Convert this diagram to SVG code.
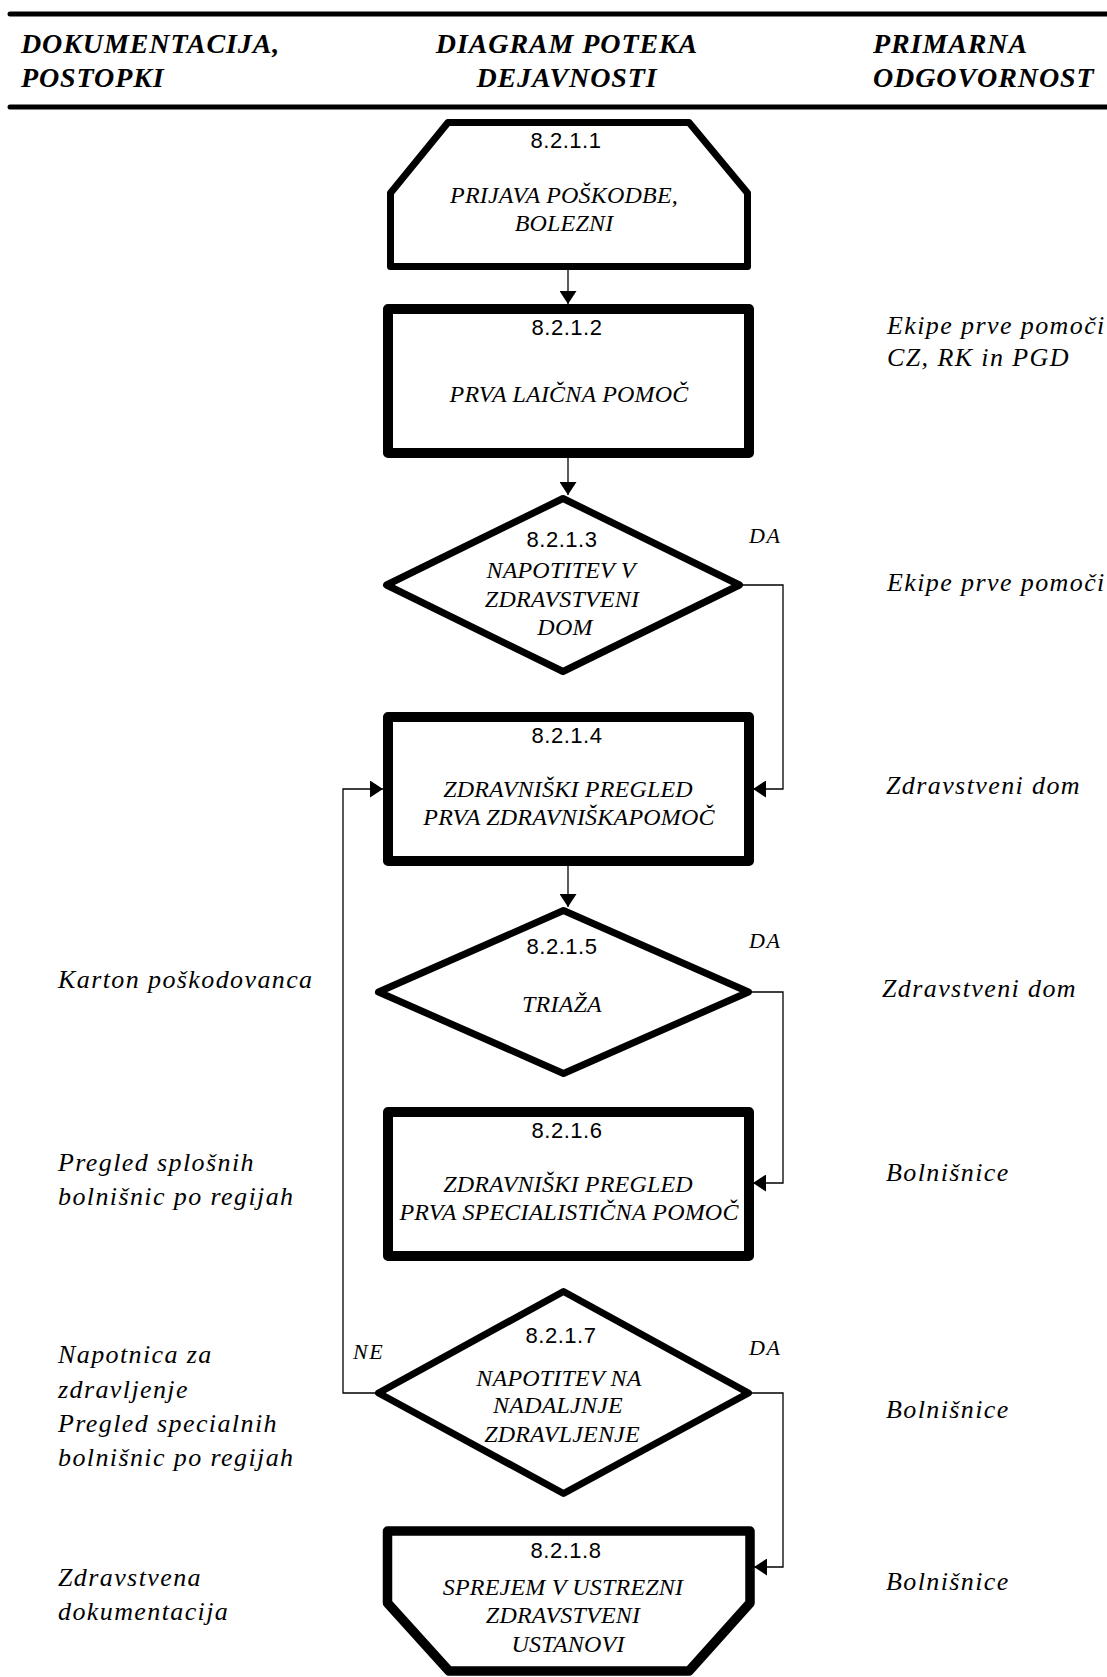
<svg xmlns="http://www.w3.org/2000/svg" width="1107" height="1677" viewBox="0 0 1107 1677">
<style>
.hdr{font-family:"Liberation Serif","Times New Roman",serif;font-weight:bold;font-style:italic;font-size:28px;letter-spacing:0.9px;fill:#000}
.col{font-family:"Liberation Serif","Times New Roman",serif;font-style:italic;font-size:26px;letter-spacing:1.4px;fill:#000}
.nt{font-family:"Liberation Serif","Times New Roman",serif;font-style:italic;font-size:24px;letter-spacing:0.2px;fill:#000;text-anchor:middle}
.lbl{font-family:"Liberation Serif","Times New Roman",serif;font-style:italic;font-size:22px;letter-spacing:1.5px;fill:#000}
.num{font-family:"Liberation Sans",Arial,sans-serif;font-size:22px;letter-spacing:0.5px;fill:#000;text-anchor:middle}
.shape{fill:#fff;stroke:#000;stroke-linejoin:round}
.conn{fill:none;stroke:#000;stroke-width:1.3}
.rule{stroke:#000;stroke-width:5;stroke-linecap:round}
</style>
<defs>
<marker id="arr" markerUnits="userSpaceOnUse" viewBox="0 0 13 17" refX="13" refY="8.5" markerWidth="13" markerHeight="17" orient="auto">
<path d="M0,0 L13,8.5 L0,17 Z" fill="#000"/>
</marker>
</defs>
<rect width="1107" height="1677" fill="#fff"/>

<g id="header">
<line class="rule" x1="10" y1="14" x2="1110" y2="14"/>
<line class="rule" x1="10" y1="107" x2="1110" y2="107"/>
<text class="hdr" x="21" y="53">DOKUMENTACIJA,</text>
<text class="hdr" x="21" y="87">POSTOPKI</text>
<text class="hdr" x="567" y="53" text-anchor="middle">DIAGRAM POTEKA</text>
<text class="hdr" x="567" y="87" text-anchor="middle">DEJAVNOSTI</text>
<text class="hdr" x="873" y="53">PRIMARNA</text>
<text class="hdr" x="873" y="87">ODGOVORNOST</text>
</g>

<g id="connectors">
<line class="conn" x1="568" y1="270" x2="568" y2="304" marker-end="url(#arr)"/>
<line class="conn" x1="568" y1="458" x2="568" y2="495" marker-end="url(#arr)"/>
<line class="conn" x1="568" y1="866" x2="568" y2="907" marker-end="url(#arr)"/>
<polyline class="conn" points="743,585 783,585 783,789 753,789" marker-end="url(#arr)"/>
<polyline class="conn" points="752,992 783,992 783,1183 753,1183" marker-end="url(#arr)"/>
<polyline class="conn" points="752,1393 783,1393 783,1567 754,1567" marker-end="url(#arr)"/>
<polyline class="conn" points="375,1393 343,1393 343,789 383,789" marker-end="url(#arr)"/>
<text class="lbl" x="749" y="543">DA</text>
<text class="lbl" x="749" y="948">DA</text>
<text class="lbl" x="749" y="1355">DA</text>
<text class="lbl" x="353" y="1359">NE</text>
</g>

<g id="n1">
<path class="shape" stroke-width="7" d="M448,122.5 L689,122.5 L747.5,193 L747.5,266.5 L390.5,266.5 L390.5,193 Z"/>
<text class="num" x="566" y="148">8.2.1.1</text>
<text class="nt" x="564" y="203">PRIJAVA POŠKODBE,</text>
<text class="nt" x="564" y="231">BOLEZNI</text>
</g>

<g id="n2">
<rect class="shape" stroke-width="10" x="388" y="309" width="361" height="144"/>
<text class="num" x="567" y="335">8.2.1.2</text>
<text class="nt" x="569" y="402">PRVA LAIČNA POMOČ</text>
</g>

<g id="n3">
<path class="shape" stroke-width="7" d="M563,498.5 L739.5,585 L563,671.5 L386.5,585 Z"/>
<text class="num" x="562" y="547">8.2.1.3</text>
<text class="nt" x="561" y="578">NAPOTITEV V</text>
<text class="nt" x="562" y="607">ZDRAVSTVENI</text>
<text class="nt" x="565" y="635">DOM</text>
</g>

<g id="n4">
<rect class="shape" stroke-width="10" x="388" y="717" width="361" height="144"/>
<text class="num" x="567" y="743">8.2.1.4</text>
<text class="nt" x="568" y="797">ZDRAVNIŠKI PREGLED</text>
<text class="nt" x="569" y="825">PRVA ZDRAVNIŠKAPOMOČ</text>
</g>

<g id="n5">
<path class="shape" stroke-width="7" d="M563.5,910.5 L748.5,992 L563.5,1073.5 L378.5,992 Z"/>
<text class="num" x="562" y="954">8.2.1.5</text>
<text class="nt" x="562" y="1012">TRIAŽA</text>
</g>

<g id="n6">
<rect class="shape" stroke-width="10" x="388" y="1112" width="361" height="144"/>
<text class="num" x="567" y="1138">8.2.1.6</text>
<text class="nt" x="568" y="1192">ZDRAVNIŠKI PREGLED</text>
<text class="nt" x="569" y="1220">PRVA SPECIALISTIČNA POMOČ</text>
</g>

<g id="n7">
<path class="shape" stroke-width="7" d="M563.5,1291.5 L748.5,1393 L563.5,1493.5 L378.5,1393 Z"/>
<text class="num" x="561" y="1343">8.2.1.7</text>
<text class="nt" x="559" y="1386">NAPOTITEV NA</text>
<text class="nt" x="558" y="1413">NADALJNJE</text>
<text class="nt" x="562" y="1442">ZDRAVLJENJE</text>
</g>

<g id="n8">
<path class="shape" stroke-width="9.5" d="M387.5,1531 L750,1531 L750,1603 L689,1671 L449,1671 L387.5,1603 Z"/>
<text class="num" x="566" y="1558">8.2.1.8</text>
<text class="nt" x="563" y="1595">SPREJEM V USTREZNI</text>
<text class="nt" x="563" y="1623">ZDRAVSTVENI</text>
<text class="nt" x="568" y="1652">USTANOVI</text>
</g>

<g id="documents">
<text class="col" x="58" y="988">Karton poškodovanca</text>
<text class="col" x="58" y="1171">Pregled splošnih</text>
<text class="col" x="58" y="1205">bolnišnic po regijah</text>
<text class="col" x="58" y="1363">Napotnica za</text>
<text class="col" x="58" y="1398">zdravljenje</text>
<text class="col" x="58" y="1432">Pregled specialnih</text>
<text class="col" x="58" y="1466">bolnišnic po regijah</text>
<text class="col" x="58" y="1586">Zdravstvena</text>
<text class="col" x="58" y="1620">dokumentacija</text>
</g>

<g id="responsibility">
<text class="col" x="887" y="334">Ekipe prve pomoči</text>
<text class="col" x="887" y="366">CZ, RK in PGD</text>
<text class="col" x="887" y="591">Ekipe prve pomoči</text>
<text class="col" x="886" y="794">Zdravstveni dom</text>
<text class="col" x="882" y="997">Zdravstveni dom</text>
<text class="col" x="886" y="1181">Bolnišnice</text>
<text class="col" x="886" y="1418">Bolnišnice</text>
<text class="col" x="886" y="1590">Bolnišnice</text>
</g>
</svg>
